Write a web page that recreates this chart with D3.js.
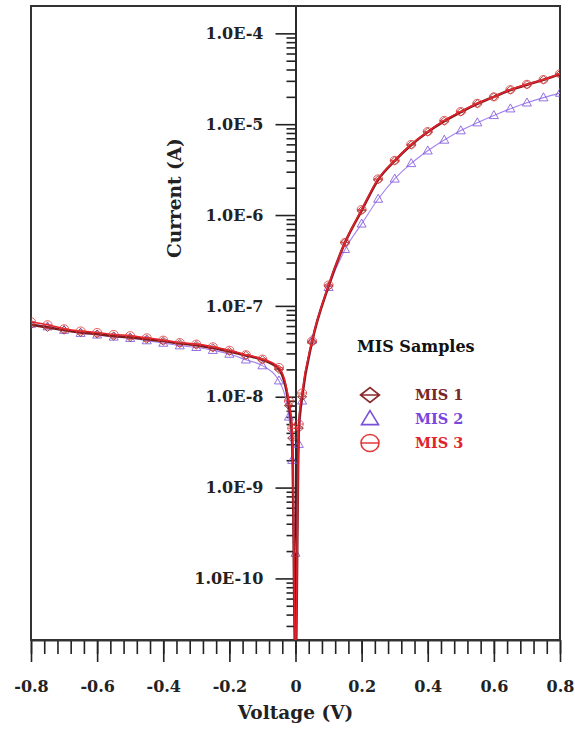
<!DOCTYPE html>
<meta charset="utf-8">
<style>
body { margin: 0; background: #fff; }
svg { font-family: "DejaVu Serif", serif; font-weight: bold; }
.axis path, .axis line { stroke: #222; stroke-width: 1.6px; }
.axis text { fill: #222; font-family: "DejaVu Serif", serif; font-weight: bold; }
</style>
<svg width="575" height="729"></svg>
<script src="https://cdn.jsdelivr.net/npm/d3@7"></script>
<script>
// voltage steps (V)
var voltage = [-0.8, -0.75, -0.7, -0.65, -0.6, -0.55, -0.5, -0.45, -0.4, -0.35, -0.3, -0.25, -0.2, -0.15, -0.1, -0.05,
  -0.02, -0.01, 0, 0.01, 0.02,
  0.05, 0.1, 0.15, 0.2, 0.25, 0.3, 0.35, 0.4, 0.45, 0.5, 0.55, 0.6, 0.65, 0.7, 0.75, 0.8];

// current (A)
var mis1 = [6.2e-8, 5.8e-8, 5.4e-8, 5.1e-8, 4.9e-8, 4.65e-8, 4.5e-8, 4.3e-8, 4.1e-8, 3.85e-8, 3.7e-8, 3.45e-8, 3.15e-8, 2.85e-8, 2.55e-8, 2.0e-8,
  8e-9, 3.5e-9, 1e-11, 4.5e-9, 1.0e-8,
  4.0e-8, 1.65e-7, 5.0e-7, 1.12e-6, 2.45e-6, 3.95e-6, 5.9e-6, 8.2e-6, 1.08e-5, 1.36e-5, 1.68e-5, 2.0e-5, 2.38e-5, 2.72e-5, 3.08e-5, 3.55e-5];
var mis2 = [6.3e-8, 5.9e-8, 5.4e-8, 5.0e-8, 4.8e-8, 4.55e-8, 4.4e-8, 4.15e-8, 3.9e-8, 3.65e-8, 3.5e-8, 3.25e-8, 2.95e-8, 2.55e-8, 2.2e-8, 1.5e-8,
  6e-9, 2e-9, 1.9e-10, 3e-9, 9e-9,
  4.2e-8, 1.6e-7, 4.2e-7, 8.0e-7, 1.5e-6, 2.5e-6, 3.7e-6, 5.1e-6, 6.7e-6, 8.5e-6, 1.04e-5, 1.25e-5, 1.48e-5, 1.72e-5, 1.96e-5, 2.2e-5];
var mis3 = [6.7e-8, 6.2e-8, 5.6e-8, 5.3e-8, 5.1e-8, 4.85e-8, 4.7e-8, 4.45e-8, 4.2e-8, 3.95e-8, 3.8e-8, 3.55e-8, 3.25e-8, 2.9e-8, 2.6e-8, 2.1e-8,
  9e-9, 4.5e-9, 1.2e-11, 5e-9, 1.1e-8,
  4.1e-8, 1.7e-7, 5.0e-7, 1.15e-6, 2.5e-6, 4.0e-6, 6.0e-6, 8.3e-6, 1.1e-5, 1.38e-5, 1.7e-5, 2.0e-5, 2.4e-5, 2.75e-5, 3.1e-5, 3.6e-5];

var seriesNames = ["MIS 1", "MIS 2", "MIS 3"];
var xTicks = [-0.8, -0.6, -0.4, -0.2, 0, 0.2, 0.4, 0.6, 0.8];
var xTickLabels = ["-0.8", "-0.6", "-0.4", "-0.2", "0", "0.2", "0.4", "0.6", "0.8"];
var yTicks = [1e-10, 1e-9, 1e-8, 1e-7, 1e-6, 1e-5, 1e-4];
var yTickLabels = ["1.0E-10", "1.0E-9", "1.0E-8", "1.0E-7", "1.0E-6", "1.0E-5", "1.0E-4"];

var svg = d3.select("svg"),
    pLeft = 31, pRight = 560, pTop = 6, pBottom = 640;

var x = d3.scaleLinear().domain([-0.8, 0.8]).range([pLeft, pRight]),
    y = d3.scaleLog().domain([2.1e-11, 2e-4]).range([pBottom, pTop]);

var styles = {
  "MIS 1": {line: "#7e1b1f", width: 2.6, mark: "#8a2a2a", text: "#7a2626", shape: "diamond"},
  "MIS 2": {line: "#a283f0", width: 1.1, mark: "#7a4fd8", text: "#7b45e0", shape: "triangle"},
  "MIS 3": {line: "#e5202b", width: 1.5, mark: "#e23a3a", text: "#e0242c", shape: "circle"}
};

var data = [mis2, mis1, mis3].map(function(vals, i) {
  var name = ["MIS 2", "MIS 1", "MIS 3"][i];
  return {id: name, values: voltage.map(function(v, j) { return {v: v, i: vals[j]}; })};
});

svg.append("rect").attr("width", 575).attr("height", 729).attr("fill", "#fff");

svg.append("clipPath").attr("id", "clip")
  .append("rect").attr("x", pLeft).attr("y", pTop).attr("width", pRight - pLeft).attr("height", pBottom - pTop);

// minor y ticks
var yMinor = [];
for (var e = -11; e <= -4; e++) {
  for (var k = 2; k <= 9; k++) {
    var t = k * Math.pow(10, e);
    if (t >= 2.1e-11 && t <= 1.9e-4) yMinor.push(t);
  }
}

var yAxisX = x(0);
svg.append("g")
    .attr("class", "axis")
    .attr("transform", "translate(" + yAxisX + ",0)")
    .call(d3.axisLeft(y).tickValues(yMinor).tickSize(9).tickSizeOuter(0).tickFormat(""));

svg.append("g")
    .attr("class", "axis")
    .attr("transform", "translate(" + yAxisX + ",0)")
    .call(d3.axisLeft(y).tickValues(yTicks).tickSize(20).tickSizeOuter(0).tickPadding(12)
      .tickFormat(function(d, i) { return yTickLabels[i]; }))
    .selectAll("text").style("font-size", "16px");

// x axis
var xMinor = d3.range(-0.8, 0.8001, 0.04);
svg.append("g")
    .attr("class", "axis")
    .attr("transform", "translate(0," + pBottom + ")")
    .call(d3.axisBottom(x).tickValues(xMinor).tickSize(14).tickSizeOuter(0).tickFormat(""));

svg.append("g")
    .attr("class", "axis")
    .attr("transform", "translate(0," + pBottom + ")")
    .call(d3.axisBottom(x).tickValues(xTicks).tickSize(22).tickSizeOuter(0).tickPadding(19)
      .tickFormat(function(d, i) { return xTickLabels[i]; }))
    .selectAll("text").style("font-size", "16px");

// frame
svg.append("rect")
    .attr("x", pLeft).attr("y", pTop)
    .attr("width", pRight - pLeft).attr("height", pBottom - pTop)
    .attr("fill", "none").attr("stroke", "#333").attr("stroke-width", 2);

// axis titles
svg.append("text")
    .attr("x", x(0)).attr("y", 719)
    .attr("text-anchor", "middle")
    .style("font-size", "18.5px").attr("fill", "#222")
    .text("Voltage (V)");

svg.append("text")
    .attr("transform", "translate(181,198) rotate(-90)")
    .attr("text-anchor", "middle")
    .style("font-size", "18.5px").attr("fill", "#222")
    .text("Current (A)");

var line = d3.line()
    .curve(d3.curveMonotoneX)
    .x(function(d) { return x(d.v); })
    .y(function(d) { return y(d.i); });

function markerPath(shape, w, h) {
  if (shape === "diamond")
    return "M" + (-w / 2) + ",0L0," + (-h / 2) + "L" + (w / 2) + ",0L0," + (h / 2) + "Z M" + (-w / 2) + ",0H" + (w / 2);
  if (shape === "triangle")
    return "M0," + (-h * 0.6) + "L" + (w / 2) + "," + (h * 0.4) + "L" + (-w / 2) + "," + (h * 0.4) + "Z";
  var r = w / 2;
  return "M" + (-r) + ",0A" + r + "," + (h / 2) + " 0 1,1 " + r + ",0A" + r + "," + (h / 2) + " 0 1,1 " + (-r) + ",0Z M" + (-r) + ",0H" + r;
}

var plot = svg.append("g").attr("clip-path", "url(#clip)");

var series = plot.selectAll(".series")
  .data(data)
  .enter().append("g")
    .attr("class", "series");

series.append("path")
    .attr("fill", "none")
    .attr("stroke", function(d) { return styles[d.id].line; })
    .attr("stroke-width", function(d) { return styles[d.id].width; })
    .attr("d", function(d) { return line(d.values); });

series.each(function(s) {
  var st = styles[s.id];
  d3.select(this).selectAll(".mark")
    .data(s.values)
    .enter().append("path")
      .attr("class", "mark")
      .attr("transform", function(d) { return "translate(" + x(d.v) + "," + y(d.i) + ")"; })
      .attr("d", markerPath(st.shape, 9, 8))
      .attr("fill", "none")
      .attr("stroke", st.mark)
      .attr("stroke-opacity", 0.8)
      .attr("stroke-width", 1);
});

// legend
svg.append("text")
    .attr("x", 357).attr("y", 352)
    .style("font-size", "16px").attr("fill", "#111")
    .text("MIS Samples");

var legend = svg.append("g")
  .selectAll("g")
  .data(seriesNames)
  .enter().append("g")
    .attr("transform", function(d, i) { return "translate(370," + (395 + i * 24) + ")"; });

legend.append("path")
    .attr("d", function(d) {
      var st = styles[d];
      if (st.shape === "diamond") return markerPath("diamond", 19, 15);
      if (st.shape === "triangle") return markerPath("triangle", 17, 14);
      return markerPath("circle", 18, 17);
    })
    .attr("fill", "none")
    .attr("stroke", function(d) { return styles[d].mark; })
    .attr("stroke-width", 1.6);

legend.append("text")
    .attr("x", 45)
    .attr("y", 5)
    .style("font-size", "14.5px")
    .attr("fill", function(d) { return styles[d].text; })
    .text(function(d) { return d; });
</script>
